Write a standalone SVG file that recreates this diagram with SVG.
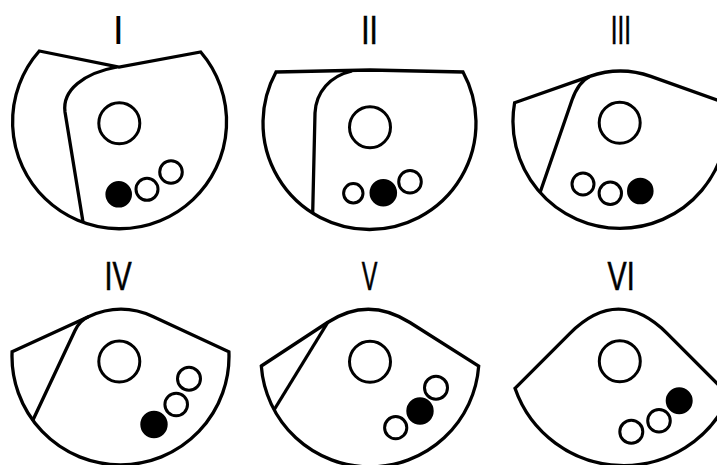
<svg xmlns="http://www.w3.org/2000/svg" width="717" height="465" viewBox="0 0 717 465">
<style>
.o{fill:none;stroke:#000;stroke-width:3.3;stroke-linejoin:miter;stroke-miterlimit:10}
.c{fill:#fff;stroke:#000;stroke-width:3}
.f{fill:#000;stroke:#000;stroke-width:3}
.t{font-family:"Liberation Sans",Arial,sans-serif;font-size:40px;fill:#000;text-anchor:middle}
.s{stroke:#000;stroke-width:0.6}
</style>
<rect width="717" height="465" fill="#fff"/>
<g id="p1">
<text class="t" x="118.3" y="44">I</text>
<path class="o" d="M39.3 51 L119 67 L200.7 52 A107 107 0 1 1 39.3 51 Z"/>
<path class="o" d="M117 67 C84 73 62 90 65 112 L83 222"/>
<circle class="c" cx="119.3" cy="123.3" r="20.5"/>
<circle class="f" cx="118.7" cy="194.3" r="11.8"/>
<circle class="c" cx="147" cy="189.3" r="11"/>
<circle class="c" cx="171" cy="172" r="11.3"/>
</g>
<g id="p2">
<text class="t s" x="369.5" y="44" textLength="16.6" lengthAdjust="spacingAndGlyphs">II</text>
<path class="o" d="M276 72 L370 70 L463 72 A106.5 106.5 0 1 1 276 72 Z"/>
<path class="o" d="M352 71 C330 76 316 92 315 113 L312.7 213"/>
<circle class="c" cx="370" cy="127.3" r="20.5"/>
<circle class="c" cx="353.3" cy="193.3" r="9.7"/>
<circle class="f" cx="383.3" cy="192.7" r="12.3"/>
<circle class="c" cx="410" cy="181.7" r="11.3"/>
</g>
<g id="p3">
<text class="t s" x="620.8" y="44" textLength="20.2" lengthAdjust="spacingAndGlyphs">III</text>
<path class="o" d="M514.6 102.7 L589.7 76.4 Q620.6 65.6 650.8 76.4 L725.4 103.1 A107 107 0 1 1 514.6 102.7 Z"/>
<path class="o" d="M589.7 76.4 C581 80.5 575.3 90.6 572 100 L540 192.7"/>
<circle class="c" cx="619.7" cy="122.7" r="20.5"/>
<circle class="c" cx="583" cy="184" r="11"/>
<circle class="c" cx="610.3" cy="193.3" r="11.2"/>
<circle class="f" cx="640.3" cy="191" r="11.8"/>
</g>
<g id="p4">
<text class="t s" x="118.2" y="290" textLength="27.2" lengthAdjust="spacingAndGlyphs">IV</text>
<path class="o" d="M12.1 351.7 L88.4 316.7 Q121.1 301.7 153.4 316.7 L228.9 351.7 A108.5 108.5 0 1 1 12.1 351.7 Z"/>
<path class="o" d="M88.4 316.7 C84 318.5 79.3 321.5 75 330.5 L32.5 421"/>
<circle class="c" cx="119.3" cy="361.5" r="20.5"/>
<circle class="c" cx="189" cy="378.7" r="11.5"/>
<circle class="c" cx="176.2" cy="404.5" r="11.3"/>
<circle class="f" cx="154" cy="424.5" r="12.2"/>
</g>
<g id="p5">
<text class="t s" x="369.5" y="290" textLength="15.7" lengthAdjust="spacingAndGlyphs">V</text>
<path class="o" d="M261.3 366 L327.5 322.5 Q367.9 295.9 409.9 322.5 L478.7 366 A109 109 0 0 1 261.3 366 Z"/>
<path class="o" d="M328 322 L274 410"/>
<circle class="c" cx="370" cy="361.7" r="20.5"/>
<circle class="c" cx="436" cy="387.7" r="11.5"/>
<circle class="f" cx="420" cy="411" r="12.2"/>
<circle class="c" cx="395.7" cy="427.7" r="11.1"/>
</g>
<g id="p6">
<text class="t s" x="621.1" y="290" textLength="27.1" lengthAdjust="spacingAndGlyphs">VI</text>
<path class="o" d="M515 388.3 L569.7 333.6 Q618.5 284.8 667.3 333.6 L729.4 395.7 A115 115 0 0 1 515 388.3 Z"/>
<circle class="c" cx="619.8" cy="361.3" r="20.5"/>
<circle class="f" cx="679.2" cy="400.8" r="12"/>
<circle class="c" cx="659" cy="420.8" r="11.3"/>
<circle class="c" cx="631.3" cy="431.7" r="11.5"/>
</g>
<g id="connectors"/>
</svg>
